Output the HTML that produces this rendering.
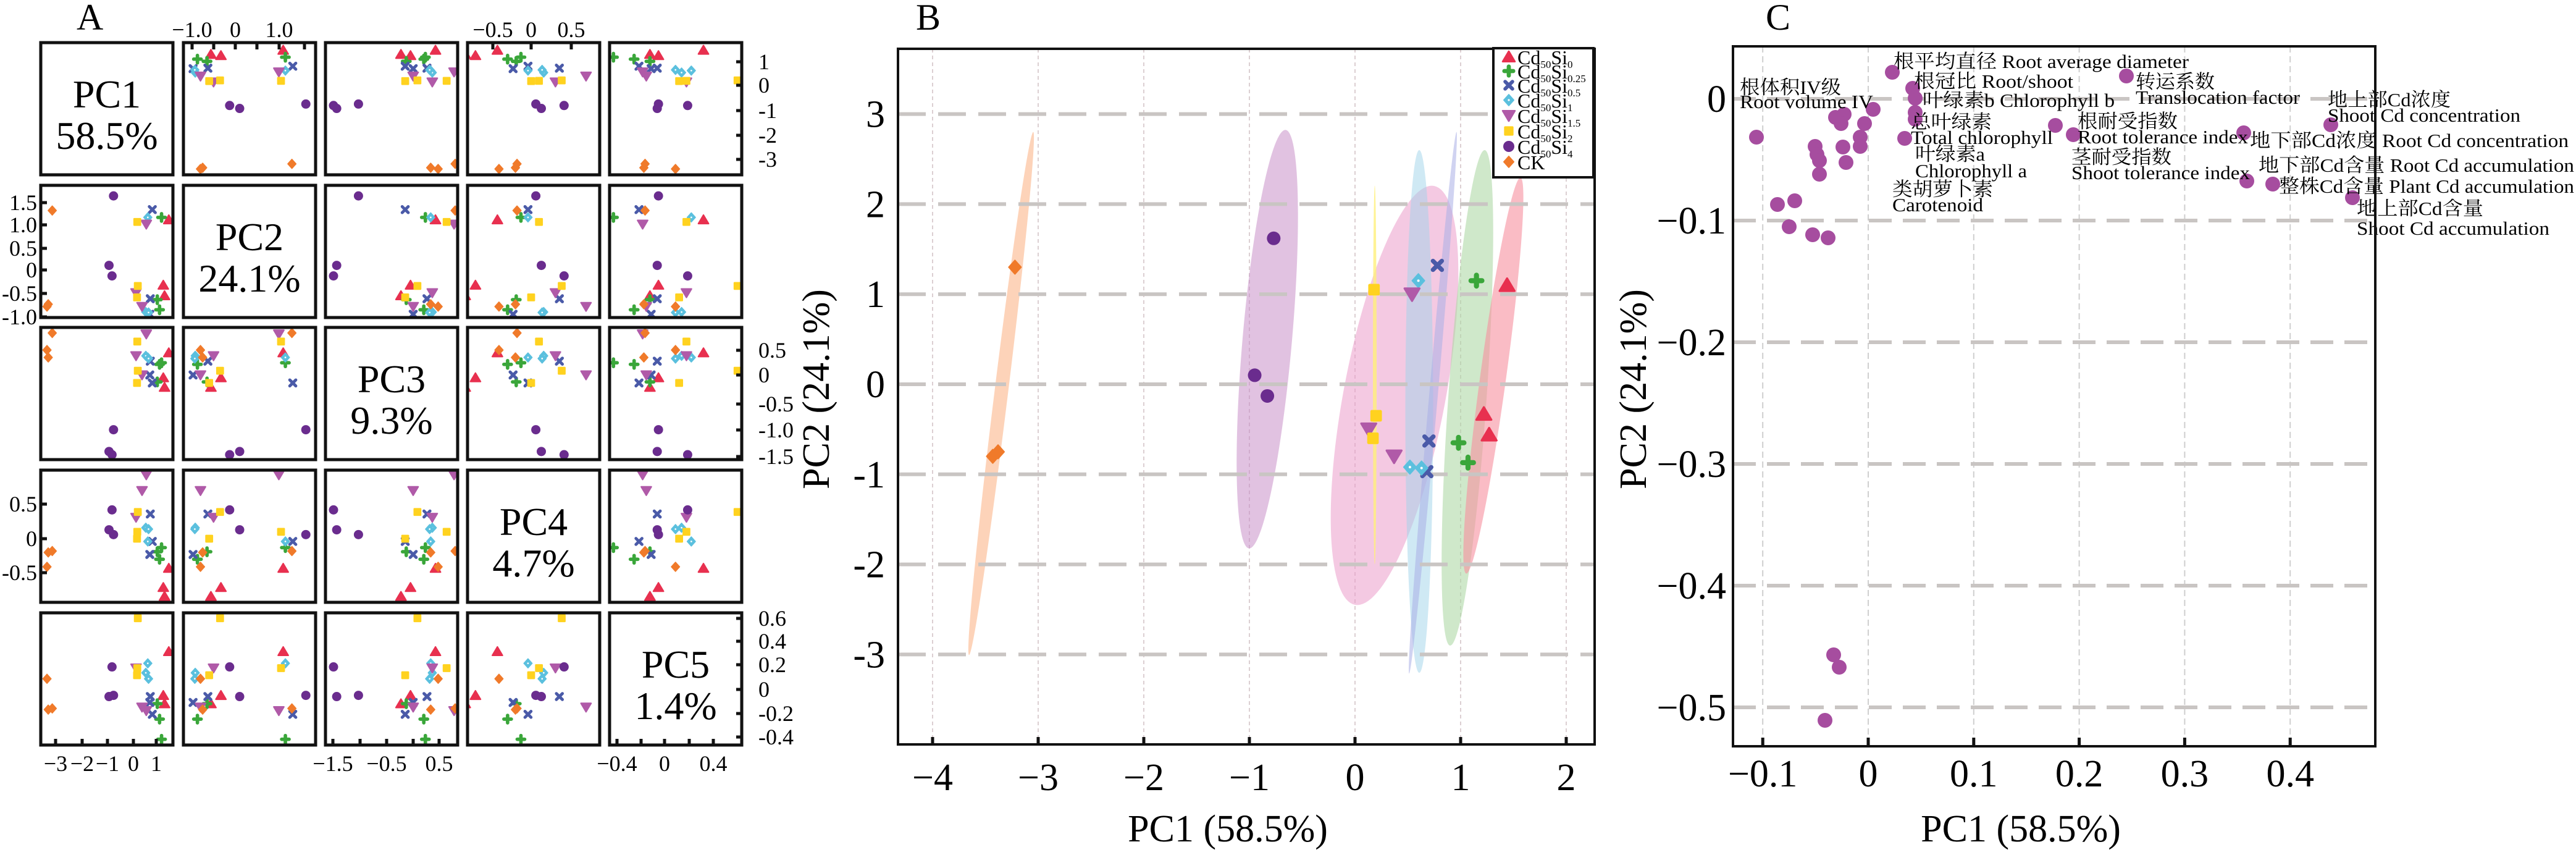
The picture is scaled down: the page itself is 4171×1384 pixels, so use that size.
<!DOCTYPE html>
<html><head><meta charset="utf-8">
<style>
html,body{margin:0;padding:0;background:#fff;}
svg, svg text{font-family:"Liberation Serif","Times New Roman","DejaVu Serif","Noto Serif CJK SC",serif;}
</style></head>
<body>
<svg id="s" width="4171" height="1379" viewBox="0 0 4171 1379" xmlns="http://www.w3.org/2000/svg" font-family="'Liberation Serif','Noto Serif CJK SC',serif">
<rect width="4171" height="1379" fill="#fff"/>
<text x="124" y="48" font-size="60">A</text>
<text x="1483" y="48" font-size="60">B</text>
<text x="2859" y="48" font-size="60">C</text>
</svg>
<script>
const S=document.getElementById('s');
let h='<g font-family="\'Liberation Serif\',\'Noto Serif CJK SC\',serif">';
const COL={tri:'#e8304f',plus:'#3aa63a',x:'#4a5aa8',dia:'#5bc0de',tdn:'#b05aa8',sq:'#ffd21f',fl:'#6a2c8e',dor:'#f07a2a'};
function mk(t,x,y,s){
 const c=COL[t];
 switch(t){
 case 'tri':return `<polygon points="${x},${y-s} ${x+s*1.1},${y+s*0.85} ${x-s*1.1},${y+s*0.85}" fill="${c}" stroke="${c}" stroke-width="${s*0.3}" stroke-linejoin="round"/>`;
 case 'tdn':return `<polygon points="${x},${y+s} ${x+s*1.1},${y-s*0.85} ${x-s*1.1},${y-s*0.85}" fill="${c}" stroke="${c}" stroke-width="${s*0.3}" stroke-linejoin="round"/>`;
 case 'plus':return `<g stroke="${c}" stroke-width="${s*0.75}" stroke-linecap="round"><line x1="${x-s*0.8}" y1="${y}" x2="${x+s*0.8}" y2="${y}"/><line x1="${x}" y1="${y-s*0.8}" x2="${x}" y2="${y+s*0.8}"/></g>`;
 case 'x':return `<g stroke="${c}" stroke-width="${s*0.65}" stroke-linecap="round"><line x1="${x-s*0.65}" y1="${y-s*0.65}" x2="${x+s*0.65}" y2="${y+s*0.65}"/><line x1="${x-s*0.65}" y1="${y+s*0.65}" x2="${x+s*0.65}" y2="${y-s*0.65}"/></g>`;
 case 'dia':return `<polygon points="${x},${y-s} ${x+s*0.9},${y} ${x},${y+s} ${x-s*0.9},${y}" fill="${c}" stroke="${c}" stroke-width="${s*0.2}" stroke-linejoin="round"/><circle cx="${x}" cy="${y}" r="${s*0.18}" fill="#fff"/>`;
 case 'dor':return `<polygon points="${x},${y-s} ${x+s*0.9},${y} ${x},${y+s} ${x-s*0.9},${y}" fill="${c}" stroke="${c}" stroke-width="${s*0.2}" stroke-linejoin="round"/>`;
 case 'sq':return `<rect x="${x-s*0.85}" y="${y-s*0.85}" width="${s*1.7}" height="${s*1.7}" rx="${s*0.2}" fill="${c}"/>`;
 case 'fl':return `<circle cx="${x}" cy="${y}" r="${s*1.0}" fill="${c}"/>`;
 }}
const D=[
['tri',1.44,1.1,0.42,-0.43,0.32],['tri',1.22,-0.33,-0.05,-0.71,-0.05],['tri',1.27,-0.56,-0.23,-0.84,-0.12],
['plus',1.15,1.15,0.23,-0.13,-0.42],['plus',0.98,-0.65,-0.13,-0.19,-0.12],['plus',1.07,-0.87,0.2,-0.3,-0.25],
['x',0.78,1.32,-0.15,-0.04,-0.21],['x',0.7,-0.63,0.26,0.36,-0.06],['x',0.68,-0.97,0,-0.23,-0.11],
['dia',0.6,1.15,0.33,-0.04,0.22],['dia',0.52,-0.92,0.36,0.16,0.14],['dia',0.63,-0.93,0.31,0.14,0.09],
['tdn',0.54,1.0,0.77,0.93,-0.18],['tdn',0.13,-0.5,0.36,0.31,0.18],['tdn',0.37,-0.8,0,0.7,-0.15],
['sq',0.18,1.05,0.63,0.1,0.18],['sq',0.2,-0.35,0.08,0.39,0.6],['sq',0.17,-0.6,-0.15,0,0.12],
['fl',-0.77,1.62,-1.03,0.06,-0.05],['fl',-0.95,0.1,-1.44,0.13,-0.06],['fl',-0.83,-0.13,-1.5,0.42,0.19],
['dor',-3.22,1.3,0.79,-0.18,-0.16],['dor',-3.43,-0.8,0.47,-0.41,0.09],['dor',-3.38,-0.75,0.33,-0.2,-0.17]];
const cx=[66,297,527,757,987], ry=[69,300,530,761,992], W=214;
const XM=[v=>215+40.5*v,v=>381+70.5*v,v=>669+86*v,v=>860+127*v,v=>1076+197*v];
const YM=[v=>138-39.5*v,v=>437-74*v,v=>607-86*v,v=>872-111*v,v=>1116-192*v];
const PL=[['PC1','58.5%'],['PC2','24.1%'],['PC3','9.3%'],['PC4','4.7%'],['PC5','1.4%']];
for(let r=0;r<5;r++)for(let c=0;c<5;c++){
 const x0=cx[c],y0=ry[r];
 if(r==c){
  h+=`<text x="${x0+107}" y="${y0+105}" font-size="64" text-anchor="middle">${PL[r][0]}</text><text x="${x0+107}" y="${y0+172}" font-size="64" text-anchor="middle">${PL[r][1]}</text>`;
 } else {
  h+=`<clipPath id="c${r}${c}"><rect x="${x0}" y="${y0}" width="${W}" height="${W}"/></clipPath><g clip-path="url(#c${r}${c})">`;
  for(const d of D){h+=mk(d[0],XM[c](d[c+1]),YM[r](d[r+1]),7.5);}
  h+='</g>';
 }
 h+=`<rect x="${x0}" y="${y0}" width="${W}" height="${W}" fill="none" stroke="#111" stroke-width="5"/>`;
}
function t(x,y,s,a,fs){return `<text x="${x}" y="${y}" font-size="${fs||36}" text-anchor="${a||'middle'}">${s}</text>`;}
function tk(x1,y1,x2,y2){return `<line x1="${x1}" y1="${y1}" x2="${x2}" y2="${y2}" stroke="#111" stroke-width="5"/>`;}
[[311,'−1.0'],[381,'0'],[452,'1.0']].forEach(([x,s])=>{h+=t(x,60,s);});
[311,346,381,416,452,493].forEach(x=>h+=tk(x,69,x,80));
[[798,'−0.5'],[860,'0'],[925,'0.5']].forEach(([x,s])=>{h+=t(x,60,s);});
[798,860,925].forEach(x=>h+=tk(x,69,x,80));
[[100,'1'],[138,'0'],[179,'-1'],[219,'-2'],[258,'-3']].forEach(([y,s])=>{h+=t(1228,y+12,s,'start');h+=tk(1192,y,1202,y);});
[[328,'1.5'],[364,'1.0'],[402,'0.5'],[437,'0'],[475,'-0.5'],[513,'-1.0']].forEach(([y,s])=>{h+=t(60,y+12,s,'end');h+=tk(66,y,76,y);});
[[567,'0.5'],[607,'0'],[654,'-0.5'],[696,'-1.0'],[739,'-1.5']].forEach(([y,s])=>{h+=t(1228,y+12,s,'start');h+=tk(1192,y,1202,y);});
[[816,'0.5'],[872,'0'],[927,'-0.5']].forEach(([y,s])=>{h+=t(60,y+12,s,'end');h+=tk(66,y,76,y);});
[[1001,'0.6'],[1038,'0.4'],[1076,'0.2'],[1116,'0'],[1155,'-0.2'],[1193,'-0.4']].forEach(([y,s])=>{h+=t(1228,y+12,s,'start');h+=tk(1192,y,1202,y);});
[[90,'−3'],[133,'−2'],[174,'−1'],[216,'0'],[253,'1']].forEach(([x,s])=>{h+=t(x,1248,s);h+=tk(x,1196,x,1206);});
[[539,'−1.5'],[626,'−0.5'],[711,'0.5']].forEach(([x,s])=>{h+=t(x,1248,s);});
[539,583,626,669,711].forEach(x=>h+=tk(x,1196,x,1206));
[[999,'−0.4'],[1076,'0'],[1155,'0.4']].forEach(([x,s])=>{h+=t(x,1248,s);});
[999,1038,1076,1116,1155].forEach(x=>h+=tk(x,1196,x,1206));
const bx=v=>2194+171*v, by=v=>622-145.8*v;
const BL=1454,BR=2582,BT=79,BB=1205;
for(let v=-4;v<=2;v++){h+=`<line x1="${bx(v)}" y1="${BT}" x2="${bx(v)}" y2="${BB}" stroke="#dccfd2" stroke-width="2" stroke-dasharray="6,5"/>`;}
function ell(x,y,len,w,ang,col,op){return `<ellipse cx="${x}" cy="${y}" rx="${w/2}" ry="${len/2}" transform="rotate(${ang} ${x} ${y})" fill="${col}" fill-opacity="${op}"/>`;}
h+=ell(1621,637,853,22,7,'#fbb58a',0.6);
h+=ell(2052,549,680,80,5,'#c98fc9',0.55);
h+=ell(2258,640,690,165,10.7,'#eb9ccb',0.55);
h+=ell(2298,666,846,45,0,'#9fd3ea',0.5);
h+=ell(2320,652,880,14,5,'#a9aee6',0.55);
h+=ell(2226,607,613,6,0,'#fff07a',0.8);
h+=ell(2376,644,804,62,4,'#afd9a6',0.6);
h+=ell(2418,608,647,42,7.8,'#f7909f',0.6);
for(let v=-3;v<=3;v++){h+=`<line x1="${BL}" y1="${by(v)}" x2="${BR}" y2="${by(v)}" stroke="#c9c5c3" stroke-width="6" stroke-dasharray="45,20"/>`;
 h+=t(1433,by(v)+21,v<0?'-'+(-v):''+v,'end',62);}
for(const d of D){h+=mk(d[0],bx(d[1]),by(d[2]),11);}
h+=`<rect x="${BL}" y="${BT}" width="${BR-BL}" height="${BB-BT}" fill="none" stroke="#111" stroke-width="4"/>`;
for(let v=-4;v<=2;v++){h+=tk(bx(v),BB-12,bx(v),BB);h+=t(bx(v),1279,v<0?'−'+(-v):''+v,'middle',62);}
h+=t(1988,1362,'PC1 (58.5%)','middle',62);
h+=`<text transform="translate(1342,630) rotate(-90)" font-size="62" text-anchor="middle">PC2 (24.1%)</text>`;
h+=`<rect x="2418" y="78" width="162" height="209" fill="#fff" stroke="#111" stroke-width="4"/>`;
const LG=[['tri','0'],['plus','0.25'],['x','0.5'],['dia','1'],['tdn','1.5'],['sq','2'],['fl','4'],['dor','']];
const LY=[92,115,138,162,187,212,237,262];
LG.forEach((g,i)=>{h+=mk(g[0],2443,LY[i],9);
 if(g[0]=='dor') h+=`<text x="2457" y="${LY[i]+12}" font-size="32">CK</text>`;
 else h+=`<text x="2457" y="${LY[i]+12}" font-size="32">Cd<tspan font-size="17" dy="6">50</tspan><tspan dy="-6">Si</tspan><tspan font-size="17" dy="6">${g[1]}</tspan></text>`;});
const CL=2806,CR=3846,CT=75,CB=1208;
const qx=v=>3025+1708*v, qy=v=>160-1970*v;
for(let i=-1;i<=4;i++){h+=`<line x1="${qx(i/10)}" y1="${CT}" x2="${qx(i/10)}" y2="${CB}" stroke="#cfcfcf" stroke-width="2" stroke-dasharray="10,6"/>`;}
for(let i=0;i<=5;i++){const y=qy(-i/10);h+=`<line x1="${CL}" y1="${y}" x2="${CR}" y2="${y}" stroke="#c9c5c3" stroke-width="6" stroke-dasharray="37,18"/>`;
 h+=t(2795,y+21,i==0?'0':'−0.'+i,'end',62);}
const P=[[3064,117],[3097,143],[3101,159],[3101,182],[3101,193],[3084,224],[3033,177],[2972,190],[2986,185],[2981,200],[3019,200],[3012,222],[3012,237],[2984,238],[2939,237],[2942,250],[2946,260],[2989,263],[2946,282],[2844,222],[2878,331],[2906,325],[2897,367],[2935,380],[2960,385],[3328,203],[3357,218],[3443,123],[3633,215],[3638,293],[3680,298],[3774,202],[3809,320],[2969,1060],[2978,1080],[2955,1166]];
P.forEach(p=>h+=`<circle cx="${p[0]}" cy="${p[1]}" r="12" fill="#a64d9f"/>`);
const LB=[
[3066,110,3544,'根平均直径 Root average diameter'],[3099,142,3357,'根冠比 Root/shoot'],[3113,173,3424,'叶绿素b Chlorophyll b'],
[3094,208,3225,'总叶绿素'],[3094,233,3324,'Total chlorophyll'],[3101,260,3214,'叶绿素a'],[3101,287,3282,'Chlorophyll a'],
[3064,317,3227,'类胡萝卜素'],[3064,342,3211,'Carotenoid'],[2817,152,2981,'根体积IV级'],[2817,175,3033,'Root volume IV'],
[3458,143,3586,'转运系数'],[3458,168,3724,'Translocation factor'],[3364,207,3526,'根耐受指数'],[3364,232,3640,'Root tolerance index'],
[3354,265,3516,'茎耐受指数'],[3354,290,3643,'Shoot tolerance index'],[3769,172,3968,'地上部Cd浓度'],[3769,197,4081,'Shoot Cd concentration'],
[3643,238,4159,'地下部Cd浓度 Root Cd concentration'],[3657,278,4168,'地下部Cd含量 Root Cd accumulation'],[3690,312,4168,'整株Cd含量 Plant Cd accumulation'],
[3816,348,4021,'地上部Cd含量'],[3816,380,4128,'Shoot Cd accumulation']];
LB.forEach(l=>h+=`<text x="${l[0]}" y="${l[1]}" font-size="31" textLength="${l[2]-l[0]}" lengthAdjust="spacingAndGlyphs">${l[3]}</text>`);
h+=`<rect x="${CL}" y="${CT}" width="${CR-CL}" height="${CB-CT}" fill="none" stroke="#111" stroke-width="4"/>`;
for(let i=-1;i<=4;i++){h+=tk(qx(i/10),CB-14,qx(i/10),CB);h+=t(qx(i/10),1273,i<0?'−0.1':(i==0?'0':'0.'+i),'middle',62);}
h+=t(3272,1362,'PC1 (58.5%)','middle',62);
h+=`<text transform="translate(2665,630) rotate(-90)" font-size="62" text-anchor="middle">PC2 (24.1%)</text>`;
h+='</g>';
S.insertAdjacentHTML('beforeend',h);
</script>
</body></html>
